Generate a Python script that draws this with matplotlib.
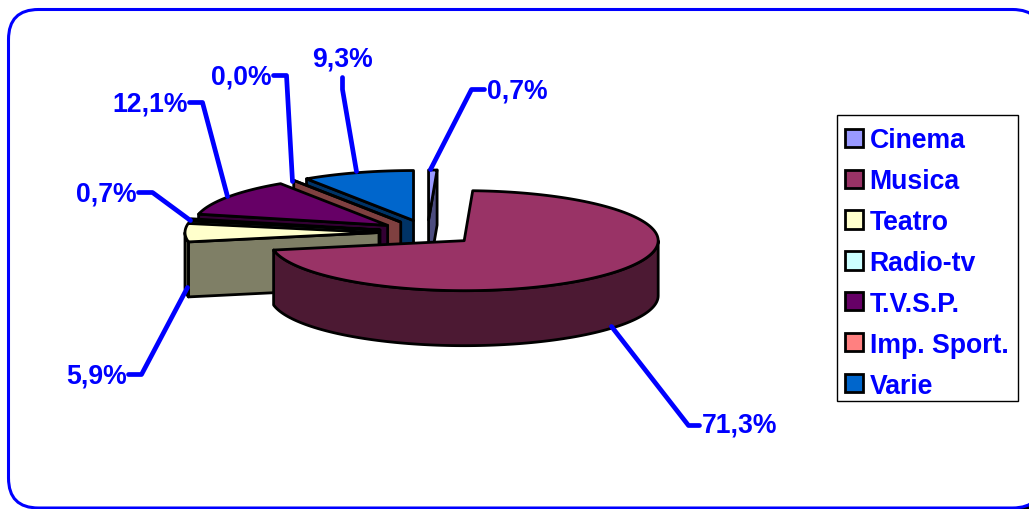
import numpy as np
import matplotlib
matplotlib.use("Agg")
import matplotlib.pyplot as plt
from matplotlib.patches import FancyBboxPatch, Patch, Rectangle

plt.rcParams["font.family"] = ["Liberation Sans", "DejaVu Sans"]

CATEGORIES = ["Cinema", "Musica", "Teatro", "Radio-tv", "T.V.S.P.", "Imp. Sport.", "Varie"]
SHARES = [0.7, 71.3, 5.9, 0.7, 12.1, 0.0, 9.3]

TOP_COLORS = ["#9999FF", "#993366", "#FFFFCC", "#CCFFFF", "#660066", "#FF8080", "#0066CC"]
SIDE_COLORS = ["#4C4C7F", "#4C1933", "#7F7F66", "#667F7F", "#330033", "#7F4040", "#003366"]

# pie geometry in pixels
CX, CY = 427, 233
RX, RY = 194, 50
DEPTH = 55
EXPLODE = 0.25
DRAW_ORDER = [6, 5, 4, 3, 2, 0, 1]
BLUE = "#0000FF"
FONT_SIZE = 19.2

# leader line paths and where the label hangs off them
LEADERS = [
    [(430, 170), (471, 90), (484, 90)],
    [(611, 327), (688, 426), (699, 426)],
    [(187, 288), (141, 375), (128, 375)],
    [(190, 221), (152, 193), (138, 193)],
    [(227, 197), (202, 103), (189, 103)],
    [(292, 182), (286, 76), (273, 76)],
    [(356, 172), (342, 90), (342, 78)],
]
LABEL_POS = [
    (486, 91, "left"), (701, 425, "left"), (126, 376, "right"), (136, 194, "right"),
    (187, 104, "right"), (271, 77, "right"), (342, 59, "center"),
]


def rim(ax_x, ax_y, theta):
    return ax_x + RX * np.sin(theta), ax_y - RY * np.cos(theta)


def draw_slice(ax, start, end, top, side):
    mid = (start + end) / 2
    ox = CX + EXPLODE * RX * np.sin(mid)
    oy = CY - EXPLODE * RY * np.cos(mid)
    style = dict(edgecolor="black", linewidth=2, joinstyle="round")

    # radial wall, only the ones facing the viewer
    for theta, facing in ((start, np.sin(start) < 0), (end, np.sin(end) > 0)):
        if facing:
            rx, ry = rim(ox, oy, theta)
            ax.fill([rx, ox, ox, rx], [ry, oy, oy + DEPTH, ry + DEPTH], facecolor=side, **style)

    # outer wall
    lo, hi = max(start, np.pi / 2), min(end, 3 * np.pi / 2)
    if hi > lo:
        t = np.linspace(lo, hi, 120)
        x, y = rim(ox, oy, t)
        ax.fill(np.r_[x, x[::-1]], np.r_[y, y[::-1] + DEPTH], facecolor=side, **style)

    # top face
    t = np.linspace(start, end, 160)
    x, y = rim(ox, oy, t)
    ax.fill(np.r_[ox, x], np.r_[oy, y], facecolor=top, **style)


fig = plt.figure(figsize=(10.29, 5.10), dpi=100)
ax = fig.add_axes([0, 0, 1, 1])
ax.set_xlim(-0.5, 1028.5)
ax.set_ylim(509.5, -0.5)
ax.axis("off")

# black corner peeking out bottom right, then the rounded blue frame
ax.add_patch(Rectangle((1000, 480), 30, 30, facecolor="black", edgecolor="none"))
ax.add_patch(FancyBboxPatch((8, 10), 1034, 498.5, boxstyle="round,pad=0,rounding_size=30",
                            facecolor="white", edgecolor=BLUE, linewidth=2.2))

edges = np.r_[0, np.cumsum(SHARES)] / sum(SHARES) * 2 * np.pi
for i in DRAW_ORDER:
    draw_slice(ax, edges[i], edges[i + 1], TOP_COLORS[i], SIDE_COLORS[i])

for share, path, (tx, ty, ha) in zip(SHARES, LEADERS, LABEL_POS):
    xs, ys = zip(*path)
    ax.plot(xs, ys, color=BLUE, linewidth=3.4, solid_joinstyle="round", solid_capstyle="round")
    ax.text(tx, ty, f"{share:.1f}%".replace(".", ","), color=BLUE, fontsize=FONT_SIZE,
            fontweight="bold", ha=ha, va="center")

ax.add_patch(Rectangle((836.5, 115.5), 181, 286, facecolor="white", edgecolor="black", linewidth=1))
handles = [Patch(facecolor=c, edgecolor="black", linewidth=2, label=n)
           for c, n in zip(TOP_COLORS, CATEGORIES)]
ax.legend(handles=handles, loc="upper left", bbox_to_anchor=(845 / 1029, 1 - 128 / 510),
          bbox_transform=fig.transFigure, frameon=False, labelcolor=BLUE, borderaxespad=0,
          borderpad=0, labelspacing=0.56, handlelength=0.67, handleheight=0.67,
          handletextpad=0.25, prop={"weight": "bold", "size": FONT_SIZE})

fig.savefig("out.png", dpi=100)
